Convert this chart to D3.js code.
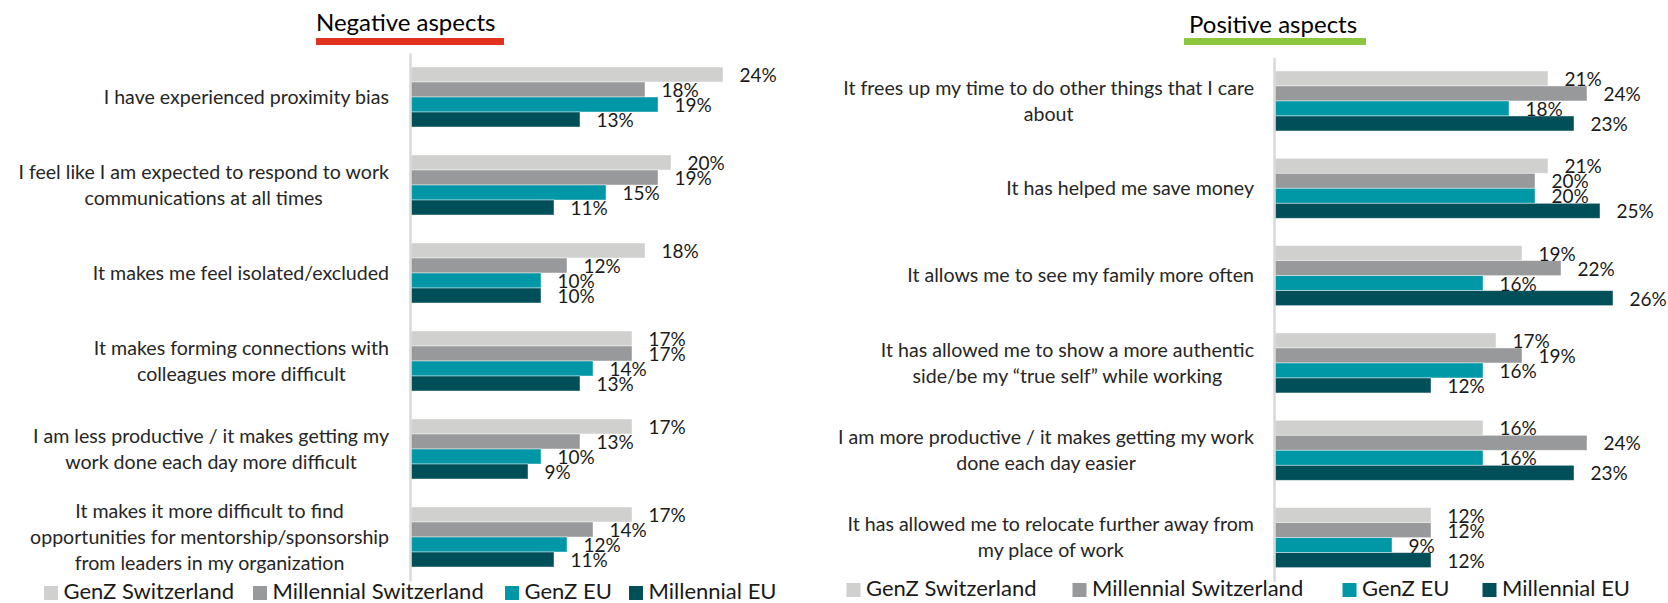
<!DOCTYPE html>
<html>
<head>
<meta charset="utf-8">
<script src="https://cdn.jsdelivr.net/npm/d3@7"></script>
<style>
  html, body { margin: 0; padding: 0; background: #fff; }
  svg { display: block; font-family: Lato, "Open Sans", sans-serif; }
</style>
</head>
<body>
<svg id="chart" width="1668" height="603"></svg>
<script>
// Survey groups and their bar colours
const seriesNames = ["GenZ Switzerland", "Millennial Switzerland", "GenZ EU", "Millennial EU"];
const seriesColors = ["#d0d0cf", "#98999b", "#0097a7", "#004f59"];

// Negative aspects of remote / hybrid work (each label split into its lines)
const negativeCategories = [
  ["I have experienced proximity bias"],
  ["I feel like I am expected to respond to work", "communications at all times"],
  ["It makes me feel isolated/excluded"],
  ["It makes forming connections with", "colleagues more difficult"],
  ["I am less productive / it makes getting my", "work done each day more difficult"],
  ["It makes it more difficult to find", "opportunities for mentorship/sponsorship", "from leaders in my organization"]
];
const negGenZSwitzerland       = [24, 20, 18, 17, 17, 17];
const negMillennialSwitzerland = [18, 19, 12, 17, 13, 14];
const negGenZEU                = [19, 15, 10, 14, 10, 12];
const negMillennialEU          = [13, 11, 10, 13, 9, 11];

// Positive aspects
const positiveCategories = [
  ["It frees up my time to do other things that I care", "about"],
  ["It has helped me save money"],
  ["It allows me to see my family more often"],
  ["It has allowed me to show a more authentic", "side/be my \u201ctrue self\u201d while working"],
  ["I am more productive / it makes getting my work", "done each day easier"],
  ["It has allowed me to relocate further away from", "my place of work"]
];
const posGenZSwitzerland       = [21, 21, 19, 17, 16, 12];
const posMillennialSwitzerland = [24, 20, 22, 19, 24, 12];
const posGenZEU                = [18, 20, 16, 16, 16, 9];
const posMillennialEU          = [23, 25, 26, 12, 23, 12];

const panels = [
  {
    title: "Negative aspects", accent: "#e2311f",
    categories: negativeCategories,
    values: [negGenZSwitzerland, negMillennialSwitzerland, negGenZEU, negMillennialEU],
    axisX: 410, yRange: [53, 581], padInner: 0.318, labelRight: 389,
    titleX: 316, titleY: 31, underline: [316, 504],
    legendY: 599, legendX: [44, 253, 505, 629]
  },
  {
    title: "Positive aspects", accent: "#8dc63f",
    categories: positiveCategories,
    values: [posGenZSwitzerland, posMillennialSwitzerland, posGenZEU, posMillennialEU],
    axisX: 1274, yRange: [57.3, 581.3], padInner: 0.313, labelRight: 1254,
    titleX: 1189, titleY: 33, underline: [1184, 1366],
    legendY: 596, legendX: [846.5, 1072.5, 1342.5, 1482.5]
  }
];

const svg = d3.select("#chart");
const labelSize = 19.6, valueSize = 19, legendSize = 22, titleSize = 24;
const lineHeight = 26;

panels.forEach(p => {
  const g = svg.append("g");
  const keys = p.categories.map(c => c.join(" "));

  const y = d3.scaleBand().domain(keys).range(p.yRange)
    .paddingInner(p.padInner).paddingOuter(p.padInner / 2);
  const ySeries = d3.scaleBand().domain(seriesNames).range([0, y.bandwidth()]);
  const x = d3.scaleLinear().domain([0, 30]).range([p.axisX + 1, p.axisX + 1 + 390]);

  // Bars
  seriesNames.forEach((s, si) => {
    g.append("g").selectAll("rect")
      .data(p.values[si])
      .join("rect")
      .attr("x", x(0))
      .attr("y", (d, i) => y(keys[i]) + ySeries(s))
      .attr("width", d => x(d) - x(0))
      .attr("height", ySeries.bandwidth())
      .attr("fill", seriesColors[si])
      .attr("stroke", "#ffffff")
      .attr("stroke-opacity", 0.55)
      .attr("stroke-width", 0.8);
  });

  // Value labels
  seriesNames.forEach((s, si) => {
    g.append("g").selectAll("text")
      .data(p.values[si])
      .join("text")
      .attr("x", d => x(d) + 16.5)
      .attr("y", (d, i) => y(keys[i]) + ySeries(s) + ySeries.bandwidth() / 2 + 0.8)
      .attr("dy", "0.36em")
      .attr("font-size", valueSize)
      .attr("fill", "#1a1a1a")
      .text(d => d + "%");
  });

  // Category axis (line only)
  const axis = g.append("g")
    .attr("transform", `translate(${p.axisX},0)`)
    .call(d3.axisLeft(y).tickSize(0).tickSizeOuter(0).tickFormat(""));
  axis.select(".domain").attr("stroke", "#d9d9d9").attr("stroke-width", 2.5);
  axis.selectAll(".tick").remove();

  // Category labels, wrapped lines centred within a right-aligned block
  p.categories.forEach((lines, i) => {
    const cy = y(keys[i]) + y.bandwidth() / 2;
    const t = g.append("text")
      .attr("font-size", labelSize)
      .attr("fill", "#262626")
      .attr("text-anchor", "middle");
    const spans = lines.map((line, li) =>
      t.append("tspan")
        .attr("y", cy + (li - (lines.length - 1) / 2) * lineHeight)
        .attr("dy", "0.35em")
        .text(line));
    const maxW = d3.max(spans, s => s.node().getComputedTextLength());
    spans.forEach(s => s.attr("x", p.labelRight - maxW / 2));
  });

  // Panel title with coloured underline
  g.append("text")
    .attr("x", p.titleX).attr("y", p.titleY)
    .attr("font-size", titleSize)
    .attr("fill", "#000")
    .text(p.title);
  g.append("rect")
    .attr("x", p.underline[0]).attr("y", 38)
    .attr("width", p.underline[1] - p.underline[0]).attr("height", 7)
    .attr("fill", p.accent);

  // Legend
  seriesNames.forEach((s, si) => {
    g.append("rect")
      .attr("x", p.legendX[si]).attr("y", p.legendY - 13)
      .attr("width", 14).attr("height", 14)
      .attr("fill", seriesColors[si]);
    g.append("text")
      .attr("x", p.legendX[si] + 19.5).attr("y", p.legendY)
      .attr("font-size", legendSize)
      .attr("fill", "#1a1a1a")
      .text(s);
  });
});
</script>
</body>
</html>
